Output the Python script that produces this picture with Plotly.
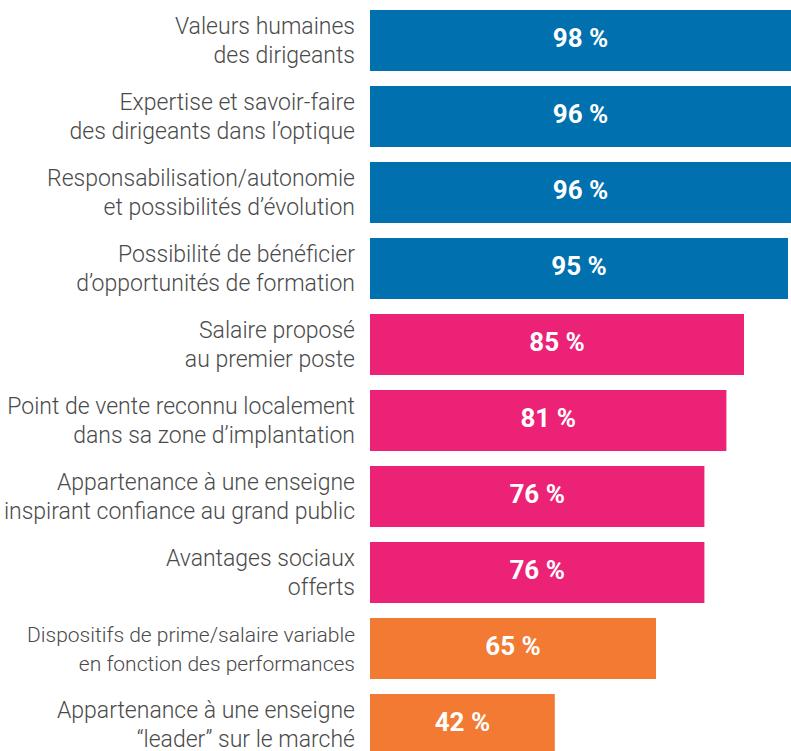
import plotly.graph_objects as go

categories = [
    "Valeurs humaines<br>des dirigeants",
    "Expertise et savoir-faire<br>des dirigeants dans l’optique",
    "Responsabilisation/autonomie<br>et possibilités d’évolution",
    "Possibilité de bénéficier<br>d’opportunités de formation",
    "Salaire proposé<br>au premier poste",
    "Point de vente reconnu localement<br>dans sa zone d’implantation",
    "Appartenance à une enseigne<br>inspirant confiance au grand public",
    "Avantages sociaux<br>offerts",
    "Dispositifs de prime/salaire variable<br>en fonction des performances",
    "Appartenance à une enseigne<br>“leader” sur le marché",
]
values = [98, 96, 96, 95, 85, 81, 76, 76, 65, 42]
groups = ["blue", "blue", "blue", "blue", "pink", "pink", "pink", "pink", "orange", "orange"]

palette = {"blue": "#0070AE", "pink": "#EC2277", "orange": "#F27A33"}
colors = [palette[g] for g in groups]
labels = [f"{v} %" for v in values]

W, H = 791, 751
left = 370
px_per_unit = 4.4
xmax = (W - left) / px_per_unit
pitch = 76
first_center = 40.5
y_top = -first_center / pitch
y_bottom = (H - first_center) / pitch
ypos = list(range(len(categories)))

# the reference squeezes the one very long label
squeezed = {8: 21}
ticktext = [
    f'<span style="font-size:{squeezed[i]}px">{c}</span>' if i in squeezed else c
    for i, c in enumerate(categories)
]

fig = go.Figure()
fig.add_trace(
    go.Bar(
        x=values,
        y=ypos,
        orientation="h",
        marker=dict(color=colors, line=dict(width=0)),
        width=61 / pitch,
        hoverinfo="skip",
    )
)
# value labels centred on the visible part of each bar
fig.add_trace(
    go.Scatter(
        x=[min(v, xmax) / 2 for v in values],
        y=ypos,
        mode="text",
        text=labels,
        textposition="middle center",
        textfont=dict(family="Roboto", size=26, color="white", weight="bold"),
        hoverinfo="skip",
        cliponaxis=False,
    )
)

fig.update_layout(
    width=W,
    height=H,
    margin=dict(l=left, r=0, t=0, b=0, autoexpand=False),
    paper_bgcolor="white",
    plot_bgcolor="white",
    showlegend=False,
)
fig.update_xaxes(range=[0, xmax], visible=False, showgrid=False, zeroline=False, automargin=False)
fig.update_yaxes(
    range=[y_bottom, y_top],
    tickmode="array",
    tickvals=ypos,
    ticktext=ticktext,
    showgrid=False,
    zeroline=False,
    showline=False,
    ticks="",
    automargin=False,
    ticklabeloverflow="allow",
    ticklabelstandoff=14,
    tickfont=dict(family="Roboto", size=23, color="#4a4a4a", weight=300),
)

fig.write_html(
    "out.html",
    config={"displayModeBar": False},
    post_script="document.body.style.margin='0';document.body.style.overflow='hidden';",
)
